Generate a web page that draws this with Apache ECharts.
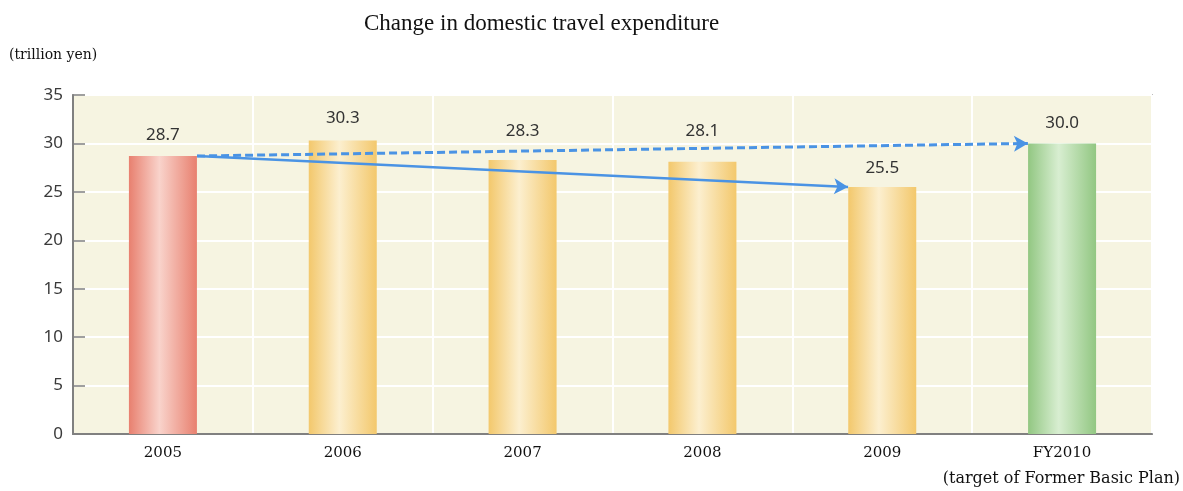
<!DOCTYPE html>
<html>
<head>
<meta charset="utf-8">
<script src="https://cdn.jsdelivr.net/npm/echarts@6/dist/echarts.min.js"></script>
<style>
html,body{margin:0;padding:0;background:#fff;}
#main{width:1183px;height:491px;}
</style>
</head>
<body>
<div id="main"></div>
<script>
// data
var categories = ['2005', '2006', '2007', '2008', '2009', 'FY2010'];
var values = [28.7, 30.3, 28.3, 28.1, 25.5, 30.0];
var yTicks = [0, 5, 10, 15, 20, 25, 30, 35];
// bar colours: [edge, center]
var barColors = [
	['#e8806f', '#f9d3cb'],
	['#f3c86c', '#fcefcf'],
	['#f3c86c', '#fcefcf'],
	['#f3c86c', '#fcefcf'],
	['#f3c86c', '#fcefcf'],
	['#92c782', '#d8eed1']
];
// label gap above each bar (2007/2008 lifted clear of the dashed arrow)
var labelGap = [12, 14, 20, 22, 10, 12];

function grad(c){
	return new echarts.graphic.LinearGradient(0, 0, 1, 0, [
		{offset: 0, color: c[0]},
		{offset: 0.45, color: c[1]},
		{offset: 1, color: c[0]}
	]);
}

var chart = echarts.init(document.getElementById('main'));
var halfBar = 0.19; // half bar width in category units
var arrowBlue = '#4a93e4';

var option = {
	animation: false,
	title: {
		text: 'Change in domestic travel expenditure',
		left: 359,
		top: 7,
		textStyle: {fontFamily: 'Liberation Serif', fontSize: 23, fontWeight: 'normal', color: '#111'}
	},
	graphic: [
		{type: 'text', left: 9, top: 48, style: {text: '(trillion yen)', font: '14px "DejaVu Serif"', fill: '#111'}},
		{type: 'text', right: 3, top: 471, style: {text: '(target of Former Basic Plan)', font: '16px "DejaVu Serif"', fill: '#111'}}
	],
	grid: {
		left: 73, right: 31, top: 95, bottom: 57,
		show: true,
		backgroundColor: '#f6f4e1',
		borderColor: '#8a8a8a',
		borderWidth: 1.5
	},
	xAxis: [{
		type: 'category',
		data: categories,
		axisLine: {lineStyle: {color: '#808080', width: 2}},
		axisTick: {inside: true, length: 8, lineStyle: {color: '#808080', width: 1.5}},
		axisLabel: {fontFamily: 'DejaVu Serif', fontSize: 15, color: '#111', margin: 12},
		splitLine: {show: true, lineStyle: {color: '#ffffff', width: 2}}
	}, {
		type: 'value',
		min: 0, max: categories.length,
		show: false
	}],
	yAxis: {
		type: 'value',
		min: yTicks[0], max: yTicks[yTicks.length - 1], interval: 5,
		axisLine: {show: true, lineStyle: {color: '#808080', width: 2}},
		axisTick: {show: true, inside: true, length: 12, lineStyle: {color: '#808080', width: 1.5}},
		axisLabel: {fontFamily: 'Noto Sans', fontSize: 17, color: '#3a3a3a', margin: 10},
		splitLine: {show: true, lineStyle: {color: '#ffffff', width: 2}}
	},
	series: [{
		type: 'bar',
		barWidth: 68,
		data: values.map(function(v, i){
			return {value: v, itemStyle: {color: grad(barColors[i])}, label: {distance: labelGap[i]}};
		}),
		label: {
			show: true,
			position: 'top',
			fontFamily: 'Noto Sans',
			fontSize: 17,
			color: '#333',
			formatter: function(p){ return p.value.toFixed(1); }
		}
	}, {
		// arrows from 2005 to 2009 and to the FY2010 target
		type: 'line',
		xAxisIndex: 1,
		data: [],
		markLine: {
			silent: true,
			symbol: ['none', 'arrow'],
			symbolSize: [12, 14],
			label: {show: false},
			data: [
				[
					{coord: [0.5 + halfBar, values[0]], lineStyle: {color: arrowBlue, width: 2.5, type: 'solid'}},
					{coord: [4.5 - halfBar, values[4]]}
				],
				[
					{coord: [0.5 + halfBar, values[0]], lineStyle: {color: arrowBlue, width: 3, type: [8, 4]}},
					{coord: [5.5 - halfBar, values[5]]}
				]
			]
		}
	}]
};
chart.setOption(option);
</script>
</body>
</html>
